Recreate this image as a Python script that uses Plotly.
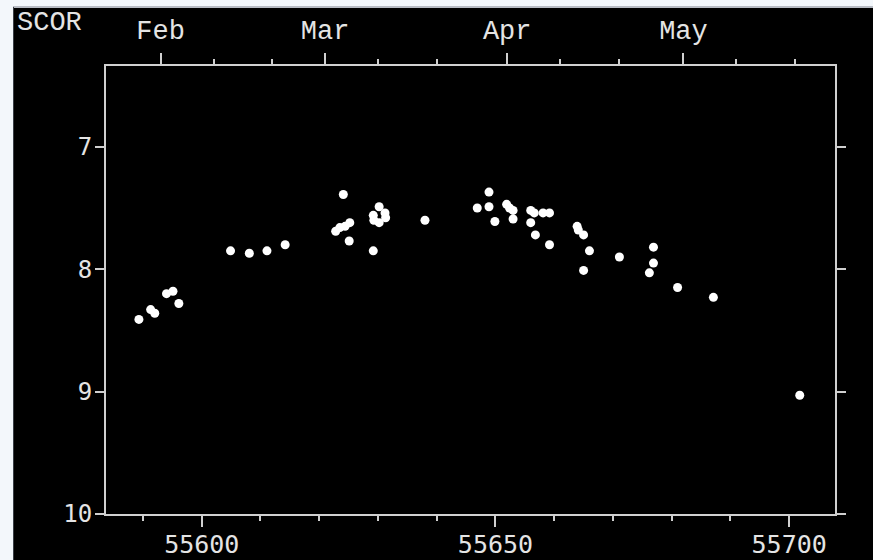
import plotly.graph_objects as go

# Observation dates (MJD) and magnitudes
mjd = [55589.3, 55591.3, 55592.0, 55594.0, 55595.1, 55596.1,
       55604.9, 55608.1, 55611.1, 55614.2,
       55622.8, 55623.5, 55624.4, 55625.2, 55624.1, 55625.1, 55629.2,
       55630.2, 55629.2, 55631.2, 55631.3, 55630.2, 55629.3,
       55638.0,
       55646.9, 55648.9, 55648.9, 55649.9, 55651.9, 55652.4, 55653.0, 55653.0,
       55656.0, 55656.6, 55658.1, 55659.2, 55656.0, 55656.8, 55659.2,
       55663.9, 55664.1, 55665.0, 55666.0, 55665.0,
       55671.1, 55676.9, 55676.9, 55676.2,
       55681.0, 55687.1, 55701.8]
mag = [8.41, 8.33, 8.36, 8.20, 8.18, 8.28,
       7.85, 7.87, 7.85, 7.80,
       7.69, 7.66, 7.65, 7.62, 7.39, 7.77, 7.85,
       7.49, 7.56, 7.54, 7.58, 7.62, 7.60,
       7.60,
       7.50, 7.37, 7.49, 7.61, 7.47, 7.50, 7.52, 7.59,
       7.52, 7.54, 7.54, 7.54, 7.62, 7.72, 7.80,
       7.65, 7.68, 7.72, 7.85, 8.01,
       7.90, 7.82, 7.95, 8.03,
       8.15, 8.23, 9.03]

# Axis ticks
mjd_ticks = [55600, 55650, 55700]
mjd_minor = [55590, 55610, 55620, 55630, 55640, 55660, 55670, 55680, 55690]
mag_ticks = [7, 8, 9, 10]
month_vals = [55593, 55621, 55652, 55682]
month_text = ["Feb", "Mar", "Apr", "May"]
month_minor = [55602, 55612, 55630, 55640, 55661, 55671, 55691, 55701]

X_RANGE = [55583.7, 55707.8]
Y_RANGE = [10, 6.34]

W, H = 873, 560
ML, MR, MT, MB = 106, 38, 66, 46
PW, PH = W - ML - MR, H - MT - MB


def px(x):
    return (x - ML) / PW


def py(y):
    return (H - MB - y) / PH


LINE = "#d0d0d0"
TXT = "#e4e4e4"

fig = go.Figure()
fig.add_trace(go.Scatter(
    x=mjd, y=mag, mode="markers",
    marker=dict(color="white", size=9, symbol="circle", line=dict(width=0)),
    hoverinfo="x+y", showlegend=False,
))
# empty trace so the calendar axis along the top gets drawn
fig.add_trace(go.Scatter(x=[], y=[], xaxis="x2", yaxis="y", showlegend=False))

fig.update_layout(
    width=W, height=H,
    margin=dict(l=ML, r=MR, t=MT, b=MB, pad=0, autoexpand=False),
    paper_bgcolor="#000000",
    plot_bgcolor="#000000",
    showlegend=False,
    xaxis=dict(
        range=X_RANGE, tickvals=mjd_ticks, ticktext=[str(v) for v in mjd_ticks],
        ticks="outside", ticklen=11, tickwidth=2, tickcolor=LINE,
        minor=dict(tickvals=mjd_minor, ticks="outside", ticklen=5, tickwidth=2, tickcolor=LINE),
        showline=True, linecolor=LINE, linewidth=2, mirror=False,
        showgrid=False, zeroline=False, automargin=False,
        tickfont=dict(family="DejaVu Sans Mono", size=25, color=TXT),
        ticklabelstandoff=-4,
    ),
    xaxis2=dict(
        range=X_RANGE, overlaying="x", side="top", anchor="y",
        tickvals=month_vals, ticktext=month_text,
        ticks="outside", ticklen=11, tickwidth=2, tickcolor=LINE,
        minor=dict(tickvals=month_minor, ticks="outside", ticklen=5, tickwidth=2, tickcolor=LINE),
        showline=True, linecolor=LINE, linewidth=2,
        showgrid=False, zeroline=False, automargin=False,
        tickfont=dict(family="Liberation Mono", size=27, color=TXT),
        ticklabelstandoff=3,
    ),
    yaxis=dict(
        range=Y_RANGE, tickvals=mag_ticks,
        ticks="outside", ticklen=9, tickwidth=2, tickcolor=LINE,
        showline=True, linecolor=LINE, linewidth=2, mirror="ticks",
        showgrid=False, zeroline=False, automargin=False,
        tickfont=dict(family="DejaVu Sans Mono", size=24, color=TXT),
        ticklabelstandoff=-2,
    ),
    shapes=[
        # light window frame along the left and top edges
        dict(type="rect", xref="paper", yref="paper", layer="below",
             x0=px(0), x1=px(13), y0=py(H), y1=py(0),
             fillcolor="#f3f7fb", line=dict(width=0)),
        dict(type="rect", xref="paper", yref="paper", layer="below",
             x0=px(0), x1=px(W), y0=py(8), y1=py(0),
             fillcolor="#f3f7fb", line=dict(width=0)),
        dict(type="line", xref="paper", yref="paper", layer="below",
             x0=px(13), x1=px(W), y0=py(7), y1=py(7),
             line=dict(color="#b8bcc4", width=2)),
        dict(type="line", xref="paper", yref="paper", layer="below",
             x0=px(13.5), x1=px(13.5), y0=py(H), y1=py(7),
             line=dict(color="#3a3f46", width=1)),
    ],
    annotations=[
        dict(text="SCOR", xref="paper", yref="paper", x=px(15), y=py(23),
             xanchor="left", yanchor="middle", showarrow=False,
             font=dict(family="Liberation Mono", size=27, color=TXT)),
    ],
)

fig.write_html("out.html")
